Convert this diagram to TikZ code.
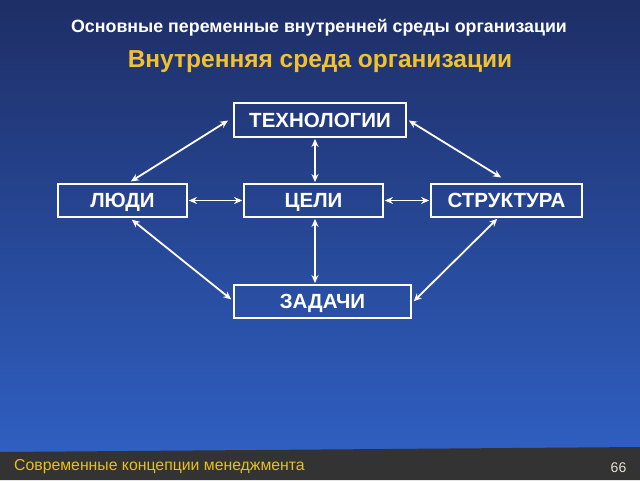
\documentclass[tikz,border=0pt]{standalone}
\usepackage{fontspec}
\setmainfont{Liberation Sans}
\usetikzlibrary{arrows.meta}
\definecolor{bgtop}{HTML}{1E2E66}
\definecolor{bgbot}{HTML}{2F5FC2}
\definecolor{footbg}{HTML}{333333}
\definecolor{ttlyellow}{HTML}{F2C12E}
\definecolor{footyellow}{HTML}{E8C01E}
\definecolor{pagenum}{HTML}{E6E0C8}
\begin{document}
\begin{tikzpicture}[x=1pt,y=-1pt,
  box/.style={draw=white,line width=1.8pt,inner sep=0pt,text=white,text height=14.5pt,text depth=0pt,font=\fontsize{20.5}{24}\bfseries\selectfont},
  link/.style={draw=white,line width=1.8pt,{Stealth[length=8pt,width=7pt]}-{Stealth[length=8pt,width=7pt]},shorten <=1pt,shorten >=1pt}]
\useasboundingbox (0,0) rectangle (640,480);
\shade[top color=bgtop,bottom color=bgbot] (0,0) rectangle (640,452);
\fill[footbg] (0,452) -- (640,447) -- (640,480) -- (0,480) -- cycle;
\node[text=white,font=\fontsize{17.8}{20}\bfseries\selectfont] (t1) at (319,28) {Основные переменные внутренней среды организации};
\node[text=ttlyellow,font=\fontsize{24.5}{28}\bfseries\selectfont] (t2) at (320,62) {Внутренняя среда организации};
\node[text=footyellow,font=\fontsize{15.8}{18}\selectfont,anchor=west,inner sep=0pt] (ft) at (14,467) {Современные концепции менеджмента};
\node[text=pagenum,font=\fontsize{14}{16}\selectfont] (pn) at (618.5,468) {66};
% boxes
\node[box,minimum width=172pt,minimum height=34pt] (tech) at (320,120) {ТЕХНОЛОГИИ};
\node[box,minimum width=129pt,minimum height=33pt] (ppl) at (122.5,200.5) {ЛЮДИ};
\node[box,minimum width=139pt,minimum height=33pt] (goal) at (313.5,200.5) {ЦЕЛИ};
\node[box,minimum width=151pt,minimum height=33pt] (str) at (506.5,200.5) {СТРУКТУРА};
\node[box,minimum width=177pt,minimum height=33pt] (task) at (322.5,301.5) {ЗАДАЧИ};
% connectors
\coordinate (a1) at (130,182); \coordinate (a2) at (229,120);
\coordinate (b1) at (131,219); \coordinate (b2) at (232,300);
\coordinate (c1) at (408,120); \coordinate (c2) at (502,178);
\coordinate (d1) at (498,218); \coordinate (d2) at (413,302);
\draw[link] (ppl.east) -- (goal.west);
\draw[link] (goal.east) -- (str.west);
\draw[link] (tech.south -| 315,0) -- (goal.north -| 315,0);
\draw[link] (goal.south -| 315,0) -- (task.north -| 315,0);
\draw[link] (a1) -- (a2);
\draw[link] (b1) -- (b2);
\draw[link] (c1) -- (c2);
\draw[link] (d1) -- (d2);
\end{tikzpicture}
\end{document}
